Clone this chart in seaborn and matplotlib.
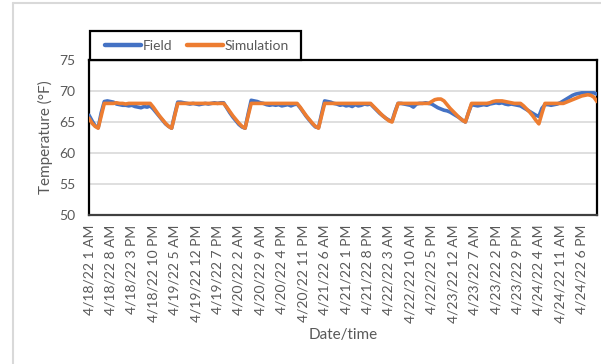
import pandas as pd
import matplotlib
matplotlib.use("Agg")
import matplotlib.pyplot as plt
from matplotlib.lines import Line2D
from matplotlib.patches import Rectangle
import seaborn as sns

# Hourly zone temperature (°F), 4/18/22 1 AM .. 4/24/22 11 PM, one row per day (1 AM .. midnight)
field = [
    66.1, 65.2, 64.4, 64.1, 66.5, 68.3, 68.4, 68.3, 68.2, 67.9, 67.8, 67.7, 67.7, 67.6, 67.7, 67.5, 67.4, 67.3, 67.5, 67.4, 67.6, 67.1, 66.5, 65.9,
    65.3, 64.7, 64.3, 64.0, 66.2, 68.2, 68.2, 68.1, 68.0, 67.9, 68.0, 67.9, 67.8, 67.9, 68.0, 67.9, 68.0, 68.1, 68.0, 68.1, 68.1, 67.3, 66.5, 65.8,
    65.2, 64.6, 64.2, 64.0, 66.3, 68.5, 68.4, 68.3, 68.1, 68.0, 67.8, 67.7, 67.8, 67.7, 67.8, 67.6, 67.7, 67.8, 67.6, 67.8, 67.9, 67.3, 66.6, 65.9,
    65.3, 64.7, 64.2, 64.1, 66.3, 68.4, 68.3, 68.2, 68.0, 67.9, 67.7, 67.8, 67.6, 67.7, 67.5, 67.8, 67.6, 67.7, 67.9, 67.8, 67.9, 67.4, 66.9, 66.4,
    66.0, 65.6, 65.3, 65.1, 66.7, 68.0, 68.0, 67.9, 67.8, 67.7, 67.4, 67.9, 68.0, 68.0, 68.1, 68.0, 67.9, 67.6, 67.3, 67.1, 66.9, 66.8, 66.6, 66.3,
    66.0, 65.7, 65.3, 65.0, 66.5, 67.8, 67.7, 67.6, 67.7, 67.8, 67.7, 67.9, 68.0, 68.1, 68.0, 68.1, 67.9, 67.8, 67.9, 67.8, 67.7, 67.6, 67.3, 67.0,
    66.7, 66.4, 66.1, 65.9, 67.2, 67.8, 67.8, 67.7, 67.8, 67.9, 68.1, 68.4, 68.7, 69.0, 69.3, 69.5, 69.6, 69.7, 69.7, 69.7, 69.7, 69.7, 69.5,
]
simulation = [
    65.6, 64.8, 64.3, 64.0, 66.0, 68.0, 68.0, 68.0, 68.0, 68.1, 68.0, 68.0, 67.9, 68.0, 68.0, 68.0, 68.0, 68.0, 68.0, 68.0, 68.0, 67.4, 66.7, 66.0,
    65.4, 64.8, 64.3, 64.0, 66.0, 68.0, 68.0, 68.0, 68.0, 68.0, 68.0, 68.0, 68.0, 68.0, 68.0, 68.0, 68.0, 68.0, 68.0, 68.0, 68.0, 67.4, 66.7, 66.0,
    65.4, 64.8, 64.3, 64.0, 66.0, 68.0, 68.0, 68.0, 68.0, 68.0, 68.0, 68.0, 68.0, 68.0, 68.0, 68.0, 68.0, 68.0, 68.0, 68.0, 68.0, 67.4, 66.7, 66.0,
    65.4, 64.8, 64.3, 64.0, 66.0, 68.0, 68.0, 68.0, 68.0, 68.0, 68.0, 68.0, 68.0, 68.0, 68.0, 68.0, 68.0, 68.0, 68.0, 68.0, 68.0, 67.5, 67.0, 66.5,
    66.0, 65.6, 65.2, 65.0, 66.5, 68.0, 68.0, 68.0, 68.0, 68.0, 68.0, 68.0, 68.0, 68.0, 68.0, 68.0, 68.3, 68.6, 68.7, 68.7, 68.4, 67.8, 67.2, 66.7,
    66.2, 65.7, 65.3, 65.0, 66.5, 68.0, 68.0, 68.0, 68.0, 68.0, 68.0, 68.1, 68.3, 68.4, 68.4, 68.4, 68.3, 68.2, 68.1, 68.0, 68.0, 68.0, 67.6, 67.1,
    66.6, 66.0, 65.3, 64.7, 66.4, 68.0, 68.0, 68.0, 68.0, 68.0, 68.0, 68.0, 68.2, 68.4, 68.6, 68.8, 69.0, 69.2, 69.3, 69.4, 69.3, 69.0, 68.3,
]
series_names = ["Field", "Simulation"]
series_colors = ["#4472C4", "#ED7D31"]

# Category labels shown every 7 hours
tick_labels = [
    "4/18/22 1 AM", "4/18/22 8 AM", "4/18/22 3 PM", "4/18/22 10 PM",
    "4/19/22 5 AM", "4/19/22 12 PM", "4/19/22 7 PM", "4/20/22 2 AM",
    "4/20/22 9 AM", "4/20/22 4 PM", "4/20/22 11 PM", "4/21/22 6 AM",
    "4/21/22 1 PM", "4/21/22 8 PM", "4/22/22 3 AM", "4/22/22 10 AM",
    "4/22/22 5 PM", "4/23/22 12 AM", "4/23/22 7 AM", "4/23/22 2 PM",
    "4/23/22 9 PM", "4/24/22 4 AM", "4/24/22 11 AM", "4/24/22 6 PM",
]
tick_step = 7
y_ticks = [50, 55, 60, 65, 70, 75]

hours = list(range(len(field)))
df = pd.concat([
    pd.DataFrame({"hour": hours, "temp": field, "series": series_names[0]}),
    pd.DataFrame({"hour": hours, "temp": simulation, "series": series_names[1]}),
])

sns.set_style("white")
plt.rcParams["font.family"] = ["Lato", "DejaVu Sans"]
text_color = "#595959"

W, H = 601, 364
fig = plt.figure(figsize=(W / 100, H / 100), dpi=100)

def fx(px):
    return px / W

def fy(py):
    return 1 - py / H

ax = fig.add_axes([fx(89), fy(215), fx(597) - fx(89), fy(60) - fy(215)])

sns.lineplot(data=df, x="hour", y="temp", hue="series", hue_order=series_names,
             palette=series_colors, linewidth=2.6, errorbar=None, legend=False,
             ax=ax, zorder=3)

ax.set_xlim(0, len(field) - 1)
ax.set_ylim(y_ticks[0], y_ticks[-1])
ax.set_yticks(y_ticks)
ax.set_xticks(range(0, tick_step * len(tick_labels), tick_step))
ax.set_xticklabels(tick_labels, rotation=90)
ax.tick_params(axis="both", length=0, labelsize=10, colors=text_color)
ax.tick_params(axis="y", pad=10)
ax.tick_params(axis="x", pad=7)
ax.yaxis.grid(True, color="#d9d9d9", linewidth=1.2)
ax.xaxis.grid(False)
ax.set_axisbelow(True)
ax.set_xlabel("")
ax.set_ylabel("")
for side in ["left", "right", "top"]:
    ax.spines[side].set_color("black")
    ax.spines[side].set_linewidth(1.6)
ax.spines["bottom"].set_color("#404040")
ax.spines["bottom"].set_linewidth(1.6)

fig.text(fx(45), fy(137), "Temperature (°F)", rotation=90, ha="center", va="center",
         fontsize=11, color=text_color)
fig.text(fx(343), fy(335), "Date/time", ha="center", va="center",
         fontsize=11, color=text_color)

# Legend box sitting on top of the plot area
fig.add_artist(Rectangle((fx(90), fy(60)), fx(301) - fx(90), fy(31) - fy(60),
                         transform=fig.transFigure, facecolor="white",
                         edgecolor="black", linewidth=1.6, zorder=5))
handles = [Line2D([], [], color=c, linewidth=3.2) for c in series_colors]
fig.legend(handles, series_names, loc="center", bbox_to_anchor=(fx(197), fy(45.5)),
           ncol=2, frameon=False, fontsize=10, labelcolor=text_color,
           handlelength=2.6, handletextpad=0.1, columnspacing=1.1)

# Outer chart-area border
fig.add_artist(Line2D([fx(13), fx(13)], [fy(3), 0], transform=fig.transFigure,
                      color="#d9d9d9", linewidth=1.5))
fig.add_artist(Line2D([fx(13), 1], [fy(3), fy(3)], transform=fig.transFigure,
                      color="#d9d9d9", linewidth=1.5))

fig.savefig("out.png", dpi=100)
